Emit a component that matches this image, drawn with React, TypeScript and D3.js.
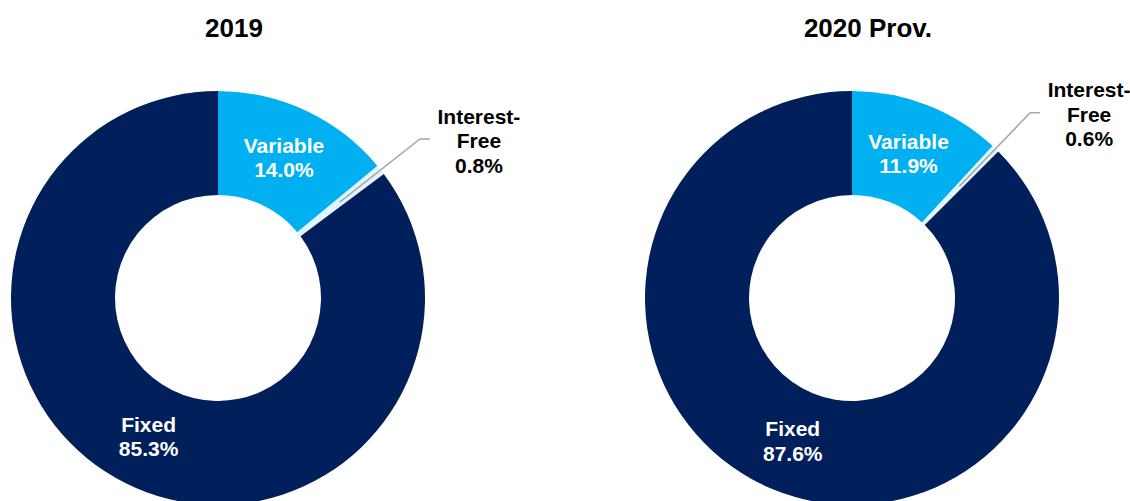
import React, { useEffect, useRef } from 'react';
import * as d3 from 'd3';

// chart data
const years = ['2019', '2020 Prov.'];
const categories = ['Variable', 'Interest-Free', 'Fixed'];
const values2019 = [14.0, 0.8, 85.3];
const values2020 = [11.9, 0.6, 87.6];
const seriesValues = [values2019, values2020];

const colors = ['#00B0F0', '#DFF4FD', '#001F5B'];
const labelColors = ['#FFFFFF', '#000000', '#FFFFFF'];

const App = () => {
  const svgRef = useRef<SVGSVGElement>(null);

  useEffect(() => {
    document.body.style.margin = '0';
    const width = 1130;
    const height = 501;
    const svg = d3.select(svgRef.current);
    svg.selectAll('*').remove();

    const outerR = 207;
    const innerR = 103;
    const centerX = d3.scalePoint<string>().domain(years).range([218, 852]);
    const cy = 298;

    const pie = d3.pie<number>().sort(null).value((d) => d);
    const arc = d3.arc<d3.PieArcDatum<number>>().innerRadius(innerR).outerRadius(outerR);
    const fmt = d3.format('.1f');

    years.forEach((year, yi) => {
      const cx = centerX(year) as number;
      const g = svg.append('g').attr('transform', `translate(${cx},${cy})`);
      const arcs = pie(seriesValues[yi]);

      // title
      svg
        .append('text')
        .attr('x', cx + 16)
        .attr('y', 37)
        .attr('text-anchor', 'middle')
        .attr('font-family', 'Liberation Sans, Arial, sans-serif')
        .attr('font-weight', 'bold')
        .attr('font-size', 26)
        .attr('fill', '#000')
        .text(year);

      // slices
      g.selectAll('path.slice')
        .data(arcs)
        .enter()
        .append('path')
        .attr('class', 'slice')
        .attr('d', arc)
        .attr('fill', (d, i) => colors[i]);

      arcs.forEach((d, i) => {
        const lines = [categories[i], fmt(d.value) + '%'];
        if (i === 1) {
          // small slice: leader line + outside label
          const mid = (d.startAngle + d.endAngle) / 2;
          const [sx, sy] = arc.centroid(d);
          const ex = Math.sin(mid) * 257;
          const ey = -Math.cos(mid) * 257;
          const hx = ex + 10;
          g.append('polyline')
            .attr('points', `${sx},${sy} ${ex},${ey} ${hx},${ey}`)
            .attr('fill', 'none')
            .attr('stroke', '#A6A6A6')
            .attr('stroke-width', 1.5);
          const t = g
            .append('text')
            .attr('text-anchor', 'middle')
            .attr('font-family', 'Liberation Sans, Arial, sans-serif')
            .attr('font-weight', 'bold')
            .attr('font-size', 21)
            .attr('fill', labelColors[i]);
          ['Interest-', 'Free', fmt(d.value) + '%'].forEach((s, k) => {
            t.append('tspan')
              .attr('x', hx + 49)
              .attr('y', ey - 15.5 + k * 24.5)
              .text(s);
          });
        } else {
          const [lx, ly] = arc.centroid(d);
          const t = g
            .append('text')
            .attr('text-anchor', 'middle')
            .attr('font-family', 'Liberation Sans, Arial, sans-serif')
            .attr('font-weight', 'bold')
            .attr('font-size', 21)
            .attr('fill', labelColors[i]);
          lines.forEach((s, k) => {
            t.append('tspan')
              .attr('x', lx)
              .attr('y', ly - 5 + k * 24.5)
              .text(s);
          });
        }
      });
    });

    svg.attr('width', width).attr('height', height);
  }, []);

  return <svg ref={svgRef} style={{ display: 'block' }}></svg>;
};

export default App;
